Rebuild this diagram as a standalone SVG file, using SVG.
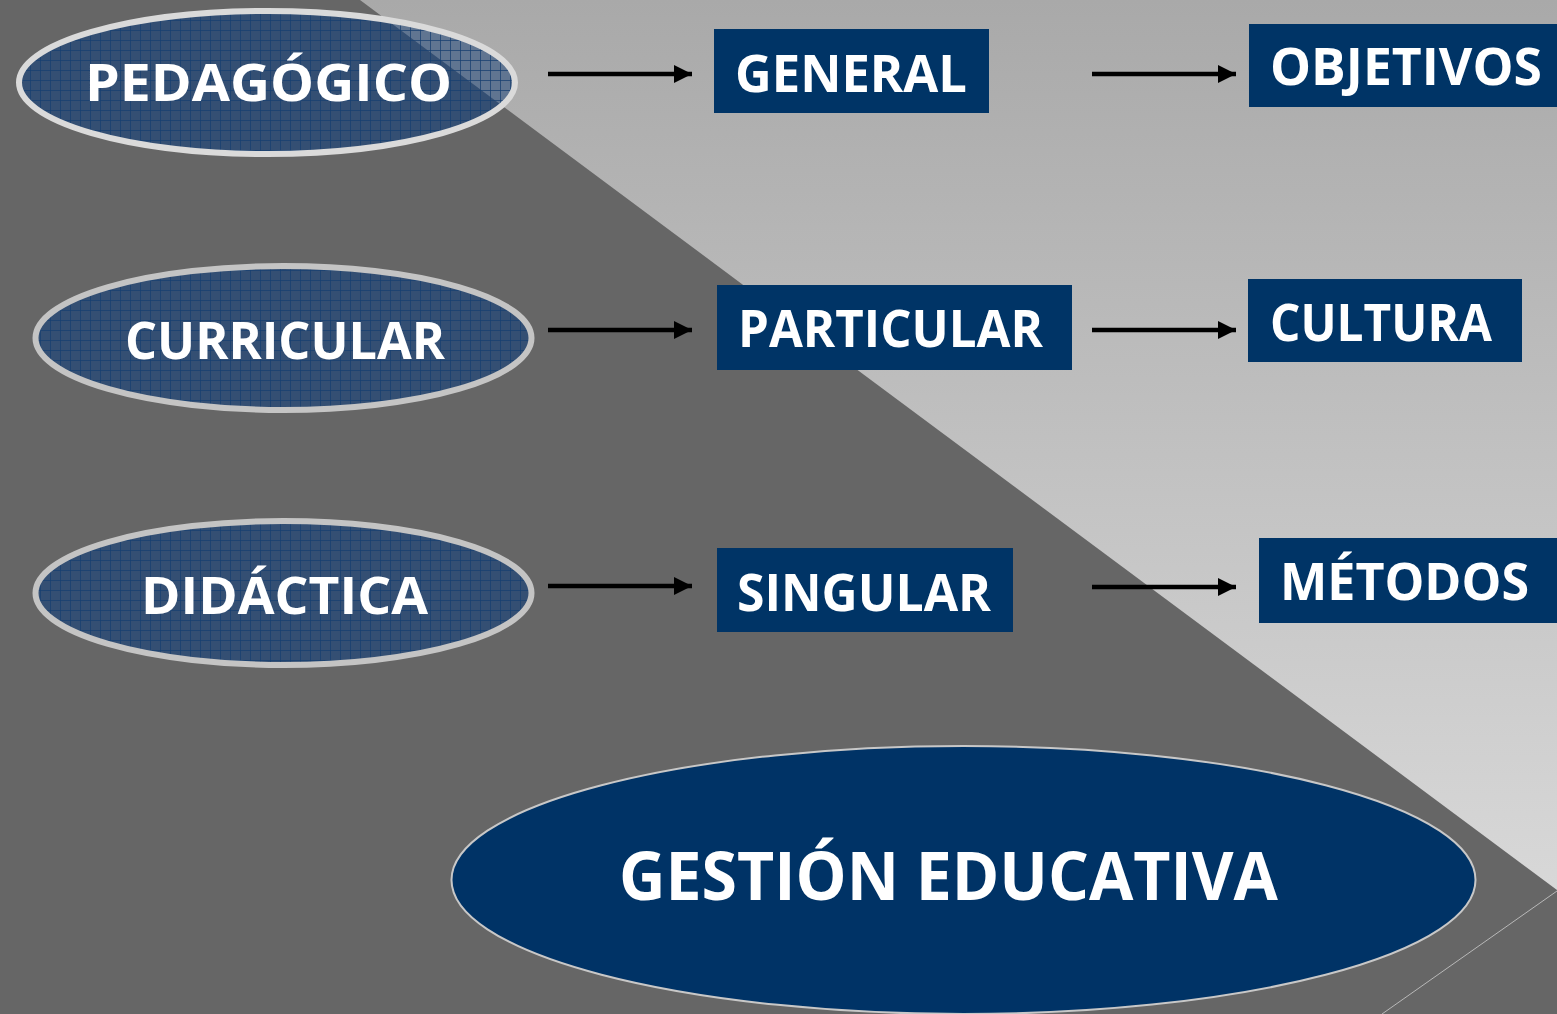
<svg xmlns="http://www.w3.org/2000/svg" width="1557" height="1014" viewBox="0 0 1557 1014">
  <defs>
    <linearGradient id="lightBg" x1="0" y1="0" x2="0" y2="890" gradientUnits="userSpaceOnUse">
      <stop offset="0" stop-color="#a9a9a9"/>
      <stop offset="1" stop-color="#d8d8d8"/>
    </linearGradient>
    <pattern id="grid" x="0" y="0" width="10" height="10" patternUnits="userSpaceOnUse">
      <path d="M0 0.5H10M0.5 0V10" stroke="#163e70" stroke-opacity="0.75" stroke-width="1" fill="none"/>
    </pattern>
    <clipPath id="lightClip">
      <polygon points="360,0 1557,0 1557,890"/>
    </clipPath>
    <marker id="arrow" viewBox="0 0 10 10" refX="10" refY="5" markerWidth="4.2" markerHeight="4" markerUnits="strokeWidth" orient="auto">
      <path d="M0 0L10 5L0 10Z" fill="#000"/>
    </marker>
    <style>
      .oval { fill: #344f73; }
      .ovalStroke { fill: none; stroke-width: 6; }
      .gridFill { fill: url(#grid); }
      .box { fill: #003466; }
      .lbl { font-family: "Open Sans", "DejaVu Sans", sans-serif; font-weight: 700; fill: #ffffff; font-size: 52px; }
      .conn { stroke: #000; stroke-width: 4.5; fill: none; marker-end: url(#arrow); }
    </style>
  </defs>

  <!-- background -->
  <rect x="0" y="0" width="1557" height="1014" fill="#666666"/>
  <polygon points="360,0 1557,0 1557,890" fill="url(#lightBg)"/>
  <line x1="1557" y1="891" x2="1382" y2="1014" stroke="#b8b8b8" stroke-width="1"/>

  <!-- left ovals -->
  <g id="node-pedagogico">
    <ellipse cx="267" cy="82.5" rx="248" ry="71.5" class="oval"/>
    <ellipse cx="267" cy="82.5" rx="248" ry="71.5" fill="#ffffff" fill-opacity="0.22" clip-path="url(#lightClip)"/>
    <ellipse cx="267" cy="82.5" rx="248" ry="71.5" class="gridFill"/>
    <ellipse cx="267" cy="82.5" rx="248" ry="71.5" class="ovalStroke" stroke="#dadada"/>
    <text x="268.5" y="101" class="lbl" text-anchor="middle" textLength="367" lengthAdjust="spacingAndGlyphs">PEDAGÓGICO</text>
  </g>

  <g id="node-curricular">
    <ellipse cx="283.5" cy="338" rx="248" ry="72" class="oval"/>
    <ellipse cx="283.5" cy="338" rx="248" ry="72" class="gridFill"/>
    <ellipse cx="283.5" cy="338" rx="248" ry="72" class="ovalStroke" stroke="#c4c4c4"/>
    <text x="285" y="359" class="lbl" text-anchor="middle" textLength="320" lengthAdjust="spacingAndGlyphs">CURRICULAR</text>
  </g>

  <g id="node-didactica">
    <ellipse cx="283.5" cy="593" rx="248" ry="72" class="oval"/>
    <ellipse cx="283.5" cy="593" rx="248" ry="72" class="gridFill"/>
    <ellipse cx="283.5" cy="593" rx="248" ry="72" class="ovalStroke" stroke="#c4c4c4"/>
    <text x="284.5" y="614" class="lbl" text-anchor="middle" textLength="287" lengthAdjust="spacingAndGlyphs">DIDÁCTICA</text>
  </g>

  <!-- middle boxes -->
  <g id="node-general">
    <rect x="714" y="29" width="275" height="84" class="box"/>
    <text x="735" y="92" class="lbl" textLength="232" lengthAdjust="spacingAndGlyphs">GENERAL</text>
  </g>
  <g id="node-particular">
    <rect x="717" y="285" width="355" height="85" class="box"/>
    <text x="738" y="347" class="lbl" textLength="305" lengthAdjust="spacingAndGlyphs">PARTICULAR</text>
  </g>
  <g id="node-singular">
    <rect x="717" y="548" width="296" height="84" class="box"/>
    <text x="737" y="611" class="lbl" textLength="254" lengthAdjust="spacingAndGlyphs">SINGULAR</text>
  </g>

  <!-- right boxes -->
  <g id="node-objetivos">
    <rect x="1249" y="24" width="308" height="83" class="box"/>
    <text x="1270" y="85" class="lbl" textLength="272" lengthAdjust="spacingAndGlyphs">OBJETIVOS</text>
  </g>
  <g id="node-cultura">
    <rect x="1248" y="279" width="274" height="83" class="box"/>
    <text x="1270" y="341" class="lbl" textLength="222" lengthAdjust="spacingAndGlyphs">CULTURA</text>
  </g>
  <g id="node-metodos">
    <rect x="1259" y="538" width="298" height="85" class="box"/>
    <text x="1280" y="600" class="lbl" textLength="249" lengthAdjust="spacingAndGlyphs">MÉTODOS</text>
  </g>

  <!-- bottom oval -->
  <g id="node-gestion">
    <ellipse cx="963.5" cy="880" rx="512" ry="134" fill="#003366" stroke="#c8c8c8" stroke-width="2"/>
    <text x="948.5" y="900" class="lbl" style="font-size:66px" text-anchor="middle" textLength="659" lengthAdjust="spacingAndGlyphs">GESTIÓN EDUCATIVA</text>
  </g>

  <!-- connectors -->
  <g id="connectors">
    <line x1="548" y1="74" x2="692" y2="74" class="conn"/>
    <line x1="1092" y1="74" x2="1236" y2="74" class="conn"/>
    <line x1="548" y1="330" x2="692" y2="330" class="conn"/>
    <line x1="1092" y1="330" x2="1236" y2="330" class="conn"/>
    <line x1="548" y1="586" x2="692" y2="586" class="conn"/>
    <line x1="1092" y1="587" x2="1236" y2="587" class="conn"/>
  </g>
</svg>
